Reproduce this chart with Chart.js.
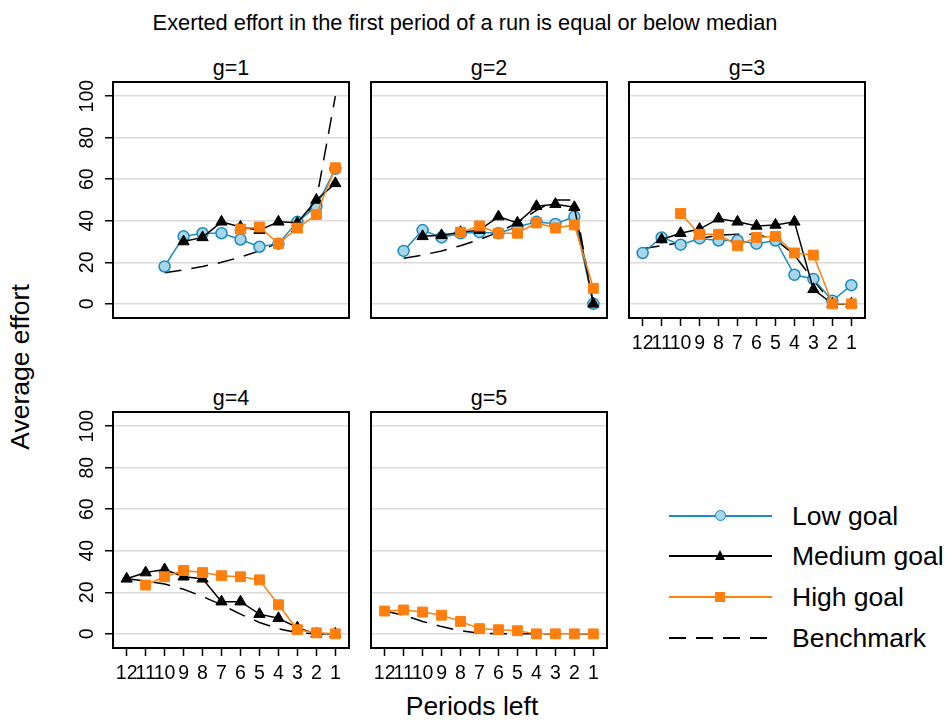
<!DOCTYPE html>
<html>
<head>
<meta charset="utf-8">
<script src="https://cdn.jsdelivr.net/npm/chart.js@4.4.1/dist/chart.umd.min.js"></script>
<style>
  body { margin: 0; background: #fff; }
  #fig { position: relative; width: 948px; height: 722px; overflow: hidden; background: #fff;
         font-family: "Liberation Sans", Arial, Helvetica, sans-serif; color: #000; }
  .abs { position: absolute; }
  .txt { position: absolute; white-space: nowrap; line-height: 1; }
  .legend-row { position: absolute; height: 2px; }
</style>
</head>
<body>
<div id="fig">
  <div class="txt" id="main-title" style="left:465px; top:12px; font-size:21.8px; transform:translateX(-50%);">Exerted effort in the first period of a run is equal or below median</div>
  <div class="txt" style="left:472px; top:693px; font-size:26.5px; transform:translateX(-50%);">Periods left</div>
  <div class="txt" style="left:20px; top:367px; font-size:26.5px; transform:translate(-50%,-50%) rotate(-90deg);">Average effort</div>
</div>
<script>
// --- data: one value per period left (12 ... 1), null where nothing is plotted ---
const periods = [12, 11, 10, 9, 8, 7, 6, 5, 4, 3, 2, 1];
const periodLabels = ["12", "11", "10", "9", "8", "7", "6", "5", "4", "3", "2", "1"];
const yTicks = [0, 20, 40, 60, 80, 100];
const groupTitles = ["g=1", "g=2", "g=3", "g=4", "g=5"];
const seriesNames = ["Low goal", "Medium goal", "High goal", "Benchmark"];

const lowG1 = [null, null, 18, 32.5, 34, 34, 31, 27.5, 29, 39.5, 47, 65];
const lowG2 = [null, 25.5, 35.5, 32, 34, 34.5, 34, 37, 39.5, 38.5, 42, 0];
const lowG3 = [24.5, 32, 28.5, 31.5, 30.5, 30.5, 29, 30.5, 14, 12, 1.5, 9];
const lowG4 = [null, null, null, null, null, null, null, null, null, null, null, null];
const lowG5 = [null, null, null, null, null, null, null, null, null, null, null, null];

const medG1 = [null, null, null, 30, 32, 39.5, 37, 35.5, 39.5, 39, 50, 58];
const medG2 = [null, null, 32.5, 33, 34.5, 35.5, 42, 39, 47, 48, 46.5, 0];
const medG3 = [null, 31, 34, 36, 41, 39.5, 37.5, 38, 39.5, 7, 0, 0];
const medG4 = [26.5, 29.5, 31, 27.5, 26.5, 15.5, 15.5, 9.5, 7.5, 3, 0, 0];
const medG5 = [null, null, null, null, null, null, null, null, null, null, null, null];

const highG1 = [null, null, null, null, null, null, 36, 37, 29, 36.5, 43, 65.5];
const highG2 = [null, null, null, null, 34.5, 37.5, 34, 34, 39, 36.5, 38, 7.5];
const highG3 = [null, null, 43.5, 33.5, 33.5, 28, 32, 32.5, 24.5, 23.5, 0, 0];
const highG4 = [null, 23.5, 27.5, 30.5, 29.5, 28, 27.5, 26, 14, 2, 0.5, 0];
const highG5 = [11, 11.5, 10.5, 9, 6, 2.5, 2, 1.5, 0, 0, 0, 0];

const benchG1 = [null, null, 15, 16.3, 18, 20, 22.5, 25.5, 29.5, 37, 50, 100];
const benchG2 = [null, 22, 23.5, 25.5, 28, 31, 34.5, 39, 45, 50, 50, 0];
const benchG3 = [26.5, 28, 29.5, 31.5, 33, 33.5, 33.5, 31, 23.5, 11.5, 0, 0];
const benchG4 = [26.5, 25.5, 24, 21.5, 18, 14, 9.5, 5.5, 2.5, 0.5, 0, 0];
const benchG5 = [11, 9, 6, 3.5, 1.5, 0.3, 0, 0, 0, 0, 0, 0];

const lowAll = [lowG1, lowG2, lowG3, lowG4, lowG5];
const medAll = [medG1, medG2, medG3, medG4, medG5];
const highAll = [highG1, highG2, highG3, highG4, highG5];
const benchAll = [benchG1, benchG2, benchG3, benchG4, benchG5];

// --- layout ---
const panelLeft = [113, 371, 629, 113, 371];
const panelTop = [82, 82, 82, 412, 412];
const boxW = 236, boxH = 236, pad = 2;

const BLUE = "#1b8bc0", BLUE_FILL = "#a8d6e8", ORANGE = "#ff7f0e";

Chart.defaults.font.family = "'Liberation Sans', Arial, sans-serif";
Chart.defaults.font.size = 19;

const styles = [
  { borderColor: BLUE, pointStyle: "circle", pointRadius: 5.5, pointBackgroundColor: BLUE_FILL, pointBorderColor: BLUE, pointBorderWidth: 1.5, order: 2 },
  { borderColor: "#000", pointStyle: "triangle", pointRadius: 6.5, pointBackgroundColor: "#000", pointBorderColor: "#000", pointBorderWidth: 1, order: 1 },
  { borderColor: ORANGE, pointStyle: "rect", pointRadius: 7, pointBackgroundColor: ORANGE, pointBorderColor: ORANGE, pointBorderWidth: 1, order: 0 },
  { borderColor: "#000", pointRadius: 0, borderDash: [17, 10], order: 3 },
];

// black frame round each panel
const boxPlugin = {
  id: "box",
  afterDraw(chart) {
    const { ctx, chartArea: a } = chart;
    ctx.save();
    ctx.strokeStyle = "#000";
    ctx.lineWidth = 2;
    ctx.strokeRect(a.left, a.top, a.right - a.left, a.bottom - a.top);
    ctx.restore();
  },
};

const fig = document.getElementById("fig");

function noPad(s) {
  s.paddingTop = 0;
  s.paddingBottom = 0;
  s.paddingLeft = 0;
  s.paddingRight = 0;
}

function makePanel(i) {
  const showY = i === 0 || i === 3;
  const showX = i >= 2;
  const yw = showY ? 50 : 0;
  const xh = showX ? 42 : 0;

  const canvas = document.createElement("canvas");
  canvas.width = boxW + yw + 2 * pad;
  canvas.height = boxH + xh + 2 * pad;
  canvas.className = "abs";
  canvas.style.left = (panelLeft[i] - yw - pad) + "px";
  canvas.style.top = (panelTop[i] - pad) + "px";
  fig.appendChild(canvas);

  const title = document.createElement("div");
  title.className = "txt";
  title.textContent = groupTitles[i];
  title.style.fontSize = "21.5px";
  title.style.left = (panelLeft[i] + boxW / 2) + "px";
  title.style.top = (panelTop[i] - 24.5) + "px";
  title.style.transform = "translateX(-50%)";
  fig.appendChild(title);

  const series = [lowAll[i], medAll[i], highAll[i], benchAll[i]];
  const datasets = series.map((vals, k) => Object.assign({
    label: seriesNames[k],
    data: periods.map((p, j) => ({ x: p, y: vals[j] })),
    borderWidth: 1.5,
    tension: 0,
    fill: false,
  }, styles[k]));

  new Chart(canvas, {
    type: "line",
    data: { datasets },
    options: {
      responsive: false,
      animation: false,
      devicePixelRatio: 1,
      layout: { padding: pad, autoPadding: false },
      plugins: { legend: { display: false }, tooltip: { enabled: false } },
      scales: {
        x: {
          type: "linear",
          display: showX,
          reverse: true,
          min: 0.28,
          max: 12.72,
          afterBuildTicks: (s) => { s.ticks = periods.map((v) => ({ value: v })); },
          afterFit: (s) => { s.height = xh; noPad(s); },
          ticks: {
            autoSkip: false, maxRotation: 0, minRotation: 0, padding: 6, color: "#000",
            font: { size: 19.5 },
            callback: (v) => periodLabels[periods.indexOf(v)],
          },
          grid: { drawOnChartArea: false, drawTicks: true, tickLength: 8, tickColor: "#000", tickWidth: 1.5 },
          border: { display: false },
        },
        y: {
          min: -6.8,
          max: 106.8,
          afterBuildTicks: (s) => { s.ticks = yTicks.map((v) => ({ value: v })); },
          afterFit: (s) => { s.width = yw; noPad(s); },
          ticks: {
            display: showY, autoSkip: false, minRotation: 90, maxRotation: 90, crossAlign: "center",
            padding: 1.5, color: "#000", font: { size: 19.5 },
          },
          grid: { color: "#dcdcdc", lineWidth: 1.5, drawTicks: showY, tickLength: 8, tickColor: "#000", tickWidth: 1.5 },
          border: { display: false },
        },
      },
    },
    plugins: [boxPlugin],
  });
}

for (let i = 0; i < groupTitles.length; i++) makePanel(i);

// --- legend ---
const legendY = [515.5, 556, 597, 637.5];
seriesNames.forEach((name, k) => {
  const st = styles[k];
  const line = document.createElement("div");
  line.className = "legend-row";
  line.style.left = "669px";
  line.style.width = "103px";
  line.style.top = (legendY[k] - 1) + "px";
  line.style.background = st.borderDash
    ? "repeating-linear-gradient(to right, #000 0 17px, transparent 17px 27px)"
    : st.borderColor;
  fig.appendChild(line);

  if (st.pointStyle) {
    const m = document.createElement("div");
    m.className = "abs";
    if (st.pointStyle === "circle") {
      Object.assign(m.style, { width: "9px", height: "9px", borderRadius: "50%", background: BLUE_FILL,
        border: "1.5px solid " + BLUE, left: "714.5px", top: (legendY[k] - 6) + "px" });
    } else if (st.pointStyle === "triangle") {
      Object.assign(m.style, { width: "0", height: "0", borderLeft: "5.5px solid transparent",
        borderRight: "5.5px solid transparent", borderBottom: "10px solid #000",
        left: "714.5px", top: (legendY[k] - 6.5) + "px" });
    } else {
      Object.assign(m.style, { width: "10px", height: "10px", background: ORANGE,
        left: "715px", top: (legendY[k] - 5) + "px" });
    }
    fig.appendChild(m);
  }

  const lab = document.createElement("div");
  lab.className = "txt";
  lab.textContent = name;
  lab.style.fontSize = "26.5px";
  lab.style.left = "792px";
  lab.style.top = (legendY[k] - 13) + "px";
  fig.appendChild(lab);
});
</script>
</body>
</html>
